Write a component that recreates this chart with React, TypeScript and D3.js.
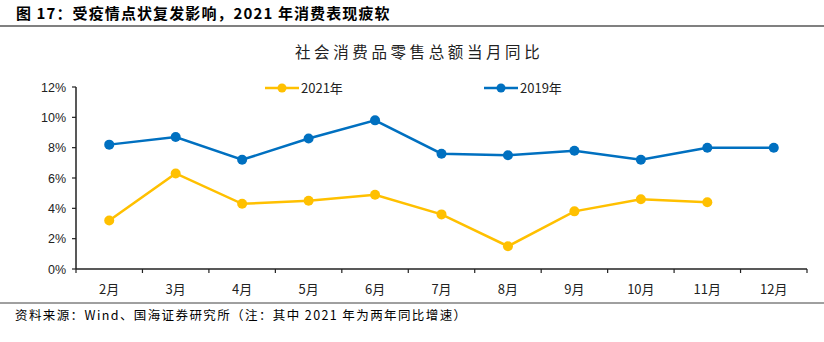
import React from "react";
import * as d3 from "d3";

const months = ["2月", "3月", "4月", "5月", "6月", "7月", "8月", "9月", "10月", "11月", "12月"];
const y2021 = [3.2, 6.3, 4.3, 4.5, 4.9, 3.6, 1.5, 3.8, 4.6, 4.4];
const y2019 = [8.2, 8.7, 7.2, 8.6, 9.8, 7.6, 7.5, 7.8, 7.2, 8.0, 8.0];
const yTicks = [0, 2, 4, 6, 8, 10, 12];
const seriesNames = ["2021年", "2019年"];

const W = 824, H = 342;
const left = 76, right = 807, top = 87, bottom = 269;

export default function App() {
  const x = d3.scaleBand<string>().domain(months).range([left, right]);
  const y = d3.scaleLinear().domain([0, 12]).range([bottom, top]);
  const line = d3.line<number>()
    .x((_, i) => (x(months[i]) as number) + x.bandwidth() / 2)
    .y((d) => y(d));
  const boundaries = months.map((m) => x(m) as number).concat([right]);
  const series = [
    { name: seriesNames[0], data: y2021, color: "#FFC000" },
    { name: seriesNames[1], data: y2019, color: "#0070C0" },
  ];
  const legendPos = [{ x: 265 }, { x: 484 }];
  const cjk = "'Noto Sans CJK SC', sans-serif";
  return (
    <svg width={W} height={H} style={{ position: "absolute", left: 0, top: 0, background: "#fff" }}>
      <text x={16} y={19} fontSize={15} fontWeight="bold" fontFamily={cjk} fill="#000" letterSpacing={1.1}>
        图 17：受疫情点状复发影响，2021 年消费表现疲软
      </text>
      <line x1={0} x2={W} y1={26} y2={26} stroke="#808080" strokeWidth={2} />
      <text x={295} y={58} fontSize={15.5} fontFamily={cjk} fill="#222" letterSpacing={3.6}>
        社会消费品零售总额当月同比
      </text>
      {series.map((s, i) => (
        <g key={s.name}>
          <line x1={legendPos[i].x} x2={legendPos[i].x + 34} y1={88} y2={88} stroke={s.color} strokeWidth={2.5} />
          <circle cx={legendPos[i].x + 17} cy={88} r={4.5} fill={s.color} />
          <text x={legendPos[i].x + 36} y={93} fontSize={13} fontFamily={cjk} fill="#222">{s.name}</text>
        </g>
      ))}
      {/* y axis */}
      <line x1={left} x2={left} y1={top} y2={bottom} stroke="#222" strokeWidth={1.5} />
      {yTicks.map((t) => (
        <g key={t}>
          <line x1={left - 4} x2={left} y1={y(t)} y2={y(t)} stroke="#222" strokeWidth={1.2} />
          <text x={66} y={y(t) + 4.5} fontSize={12.5} textAnchor="end" fontFamily="'Liberation Sans', sans-serif" fill="#222">{t}%</text>
        </g>
      ))}
      {/* x axis */}
      <line x1={left} x2={right} y1={bottom} y2={bottom} stroke="#222" strokeWidth={1.5} />
      {boundaries.map((b, i) => (
        <line key={i} x1={b} x2={b} y1={bottom} y2={bottom + 4} stroke="#222" strokeWidth={1.2} />
      ))}
      {months.map((m) => (
        <text key={m} x={(x(m) as number) + x.bandwidth() / 2} y={294} fontSize={13} textAnchor="middle" fontFamily={cjk} fill="#222">{m}</text>
      ))}
      {series.map((s) => (
        <g key={s.name}>
          <path d={line(s.data) || ""} fill="none" stroke={s.color} strokeWidth={2.5} />
          {s.data.map((v, i) => (
            <circle key={i} cx={(x(months[i]) as number) + x.bandwidth() / 2} cy={y(v)} r={5} fill={s.color} />
          ))}
        </g>
      ))}
      <line x1={0} x2={W} y1={303} y2={303} stroke="#404040" strokeWidth={1} />
      <text x={15} y={320} fontSize={12.5} fontFamily={cjk} fill="#000" letterSpacing={1.4}>
        资料来源：Wind、国海证券研究所（注：其中 2021 年为两年同比增速）
      </text>
    </svg>
  );
}
